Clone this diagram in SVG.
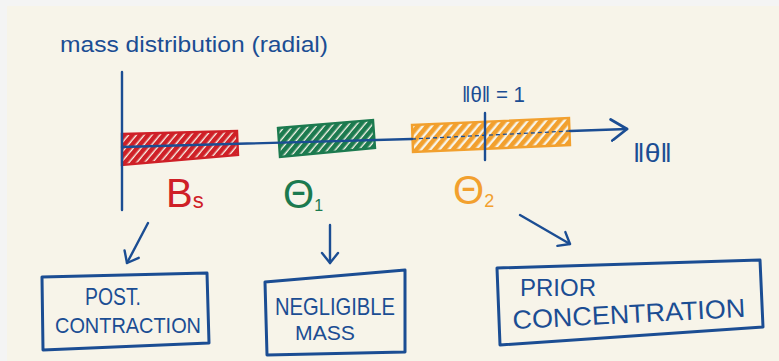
<svg xmlns="http://www.w3.org/2000/svg" width="779" height="361" viewBox="0 0 779 361">
<defs>
<style>
.ink{fill:none;stroke:#1b4d93;stroke-width:2.4;stroke-linecap:round;stroke-linejoin:round}
.t{font-family:"Liberation Sans","DejaVu Sans",sans-serif;fill:#1b4d93}
.box{fill:none;stroke:#1b4d93;stroke-width:3;stroke-linejoin:round}
</style>
<pattern id="hr" width="6" height="6" patternUnits="userSpaceOnUse" patternTransform="rotate(40)"><rect width="6" height="6" fill="#f7f4e9"/><rect width="4.6" height="6" fill="#cf2027"/></pattern>
<pattern id="hg" width="6" height="6" patternUnits="userSpaceOnUse" patternTransform="rotate(40)"><rect width="6" height="6" fill="#f7f4e9"/><rect width="4.6" height="6" fill="#1c7a4f"/></pattern>
<pattern id="ho" width="7" height="7" patternUnits="userSpaceOnUse" patternTransform="rotate(40)"><rect width="7" height="7" fill="#f7f4e9"/><rect width="4.6" height="7" fill="#f2a02e"/></pattern>
<marker id="ah" viewBox="-12 -10 14 20" refX="0" refY="0" markerWidth="14" markerHeight="20" markerUnits="userSpaceOnUse" orient="auto"><path d="M -10 -8 L 0 0 L -10 8" fill="none" stroke="#1b4d93" stroke-width="2.4" stroke-linecap="round" stroke-linejoin="round"/></marker>
<marker id="ahb" viewBox="-18 -12 20 24" refX="0" refY="0" markerWidth="20" markerHeight="24" markerUnits="userSpaceOnUse" orient="auto"><path d="M -16 -10 L 0 0 L -15 11" fill="none" stroke="#1b4d93" stroke-width="2.8" stroke-linecap="round" stroke-linejoin="round"/></marker>
</defs>
<rect width="779" height="361" fill="#f4f4f4"/>
<rect x="7" y="6" width="772" height="355" fill="#f7f4e9"/>

<g id="title"><text class="t" x="60" y="52" font-size="22" textLength="268" lengthAdjust="spacingAndGlyphs">mass distribution (radial)</text></g>

<g id="bars">
<g id="bar-bs"><path d="M122 134 L237 131 L238 155 L122 165 Z" fill="url(#hr)" stroke="#cf2027" stroke-width="2.4"/></g>
<g id="bar-theta1"><path d="M278 128 L373 120 L375 148 L280 157 Z" fill="url(#hg)" stroke="#1c7a4f" stroke-width="2.4"/></g>
<g id="bar-theta2"><path d="M412 125 L569 118 L570 145 L413 152 Z" fill="url(#ho)" stroke="#f2a02e" stroke-width="2.4"/></g>
</g>

<g id="axes">
<path class="ink" d="M122 72 L122 210"/>
<path class="ink" d="M122 147 L412 139"/>
<path d="M412 139 L570 131" fill="none" stroke="#1b4d93" stroke-width="1.3" stroke-dasharray="4 3"/>
<path class="ink" d="M570 131 L627 129" marker-end="url(#ahb)"/>
<path class="ink" d="M485 113 L485 160" stroke-width="3.2"/>
<text class="t" x="633" y="162" font-size="26" font-family="DejaVu Sans" textLength="39" lengthAdjust="spacingAndGlyphs">‖θ‖</text>
<text class="t" x="462" y="102" font-size="22" font-family="DejaVu Sans" textLength="63" lengthAdjust="spacingAndGlyphs">‖θ‖ = 1</text>
</g>

<g id="label-bs"><text x="166" y="207" font-family="Liberation Sans,sans-serif" font-size="40" fill="#cf2027">B<tspan font-size="22" dy="1">s</tspan></text></g>
<g id="label-theta1"><text x="283" y="208" font-family="Liberation Sans,sans-serif" font-size="40" fill="#1c7a4f">Θ<tspan font-size="16" dy="3">1</tspan></text></g>
<g id="label-theta2"><text x="453" y="204" font-family="Liberation Sans,sans-serif" font-size="40" fill="#f2a02e">Θ<tspan font-size="18" dy="3">2</tspan></text></g>

<g id="connectors">
<path class="ink" d="M148 223 L127 263" marker-end="url(#ah)"/>
<path class="ink" d="M330 225 L330 263" marker-end="url(#ah)"/>
<path class="ink" d="M520 215 L570 244" marker-end="url(#ah)"/>
</g>

<g id="node-post">
<path class="box" d="M42 277 L207 273 L209 343 L43 350 Z"/>
<text class="t" x="85" y="305" font-size="24" textLength="56" lengthAdjust="spacingAndGlyphs">POST.</text>
<text class="t" x="55" y="333" font-size="22" textLength="146" lengthAdjust="spacingAndGlyphs">CONTRACTION</text>
</g>

<g id="node-negligible">
<path class="box" d="M265 282 L405 270 L405 352 L267 355 Z"/>
<text class="t" x="275" y="315" font-size="24" textLength="120" lengthAdjust="spacingAndGlyphs">NEGLIGIBLE</text>
<text class="t" x="295" y="340" font-size="20" textLength="60" lengthAdjust="spacingAndGlyphs">MASS</text>
</g>

<g id="node-prior">
<path class="box" d="M497 268 L760 260 L763 327 L500 345 Z"/>
<text class="t" x="520" y="296" font-size="24" textLength="76" lengthAdjust="spacingAndGlyphs">PRIOR</text>
<text class="t" x="513" y="329" font-size="26" textLength="233" lengthAdjust="spacingAndGlyphs" transform="rotate(-3 513 329)">CONCENTRATION</text>
</g>
</svg>
